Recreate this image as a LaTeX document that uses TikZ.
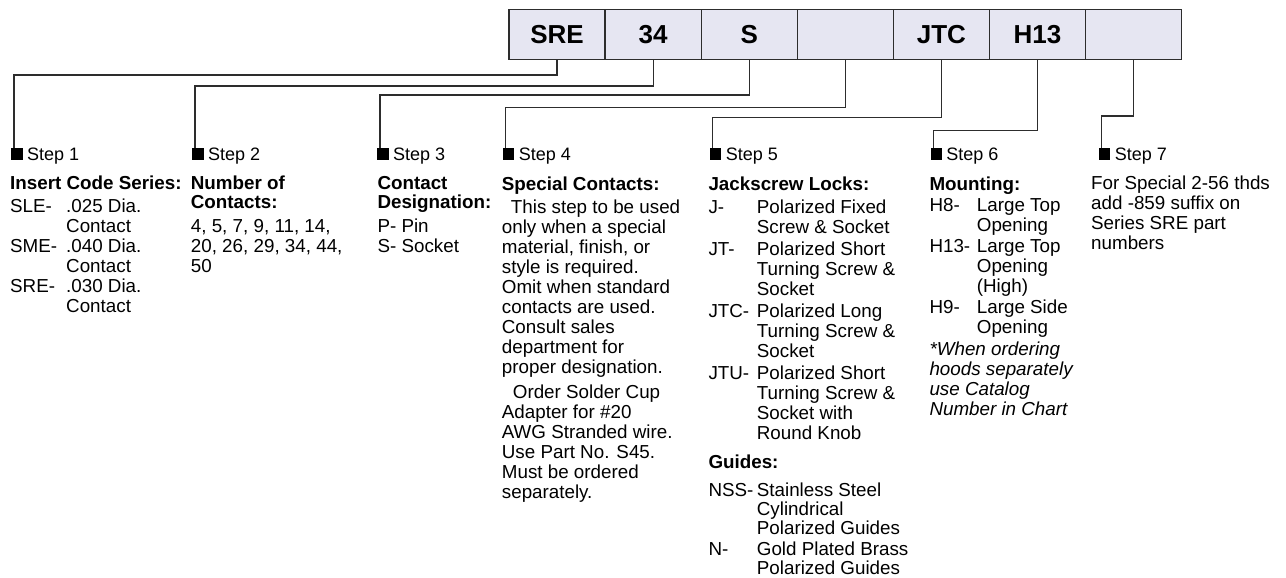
\documentclass[tikz,border=0pt]{standalone}
\usepackage{fontspec}
\setmainfont{Liberation Sans}
\usepackage{array}
\definecolor{cellfill}{RGB}{230,230,242}
\definecolor{cellline}{RGB}{45,45,45}
\def\colfont{\fontsize{18.8}{20}\selectfont}
\tikzset{
	cell/.style={draw=cellline, line width=1.3pt, fill=cellfill, minimum width=96.1pt, minimum height=50pt, inner sep=0pt, font=\fontsize{26}{28}\selectfont\bfseries},
	wire/.style={line width=1.3pt, draw=cellline},
	stepmark/.style={fill=black, minimum size=11.5pt, inner sep=0pt, anchor=south west},
	steptext/.style={font=\fontsize{18}{20}\selectfont, inner sep=0pt, anchor=base west},
	coltext/.style={font=\colfont, inner sep=0pt, anchor=base west}
}

\begin{document}
\begin{tikzpicture}[x=1pt,y=-1pt]
			%%%%% START %%%%%
			\useasboundingbox (0,0) rectangle (1286,578);
			
			\foreach \t [count=\i] in {SRE,34,S,{},JTC,H13,{}}
				\node[cell] (c\i) at ({509+96.1*(\i-0.5)},34.5) {\t};
			
			\foreach \x/\i in {11/1,192/2,377/3,502.7/4,709.7/5,930.3/6,1098.7/7} {
				\node[stepmark] (m\i) at (\x,160) {};
				\node[steptext] (l\i) at ([xshift=4pt]m\i.south east) {Step \i};
			}
			
			\foreach \i/\h in {1/75,2/86,3/95,4/107.3,5/117.3,6/130.7,7/116}
				\draw[wire] (c\i.south) -- (c\i.south |- 0,\h) -| ([xshift=3pt]m\i.north west);
			
			% step 1
			\node[coltext] (d1) at (10,189.5) {\begin{tabular}[t]{@{}p{56pt}@{}l@{}}
				\multicolumn{2}{@{}l@{}}{\bfseries Insert Code Series:}\\[2.7pt]
				SLE- & .025 Dia.\\
				& Contact\\
				SME- & .040 Dia.\\
				& Contact\\
				SRE- & .030 Dia.\\
				& Contact
			\end{tabular}};
			
			% step 2
			\node[coltext] (d2) at (190.7,189.5) {\begin{tabular}[t]{@{}l@{}}
				\bfseries Number of\\[-1pt]
				\bfseries Contacts:\\[4.4pt]
				4, 5, 7, 9, 11, 14,\\
				20, 26, 29, 34, 44,\\
				50
			\end{tabular}};
			
			% step 3
			\node[coltext] (d3) at (377.3,189.5) {\begin{tabular}[t]{@{}l@{}}
				\bfseries Contact\\[-1pt]
				\bfseries Designation:\\[4.4pt]
				P- Pin\\
				S- Socket
			\end{tabular}};
			
			% step 4
			\node[coltext] (d4) at (501.7,190) {\begin{tabular}[t]{@{}l@{}}
				\bfseries Special Contacts:\\[3.3pt]
				\hspace*{9pt}This step to be used\\
				only when a special\\
				material, finish, or\\
				style is required.\\
				Omit when standard\\
				contacts are used.\\
				Consult sales\\
				department for\\
				proper designation.\\[5pt]
				\hspace*{11pt}Order Solder Cup\\
				Adapter for \#20\\
				AWG Stranded wire.\\
				Use Part No. S45.\\
				Must be ordered\\
				separately.
			\end{tabular}};
			
			% step 5
			\node[coltext] (d5) at (708.3,190) {\begin{tabular}[t]{@{}p{48.4pt}@{}l@{}}
				\multicolumn{2}{@{}l@{}}{\bfseries Jackscrew Locks:}\\[3.3pt]
				J- & Polarized Fixed\\
				& Screw \& Socket\\[2pt]
				JT- & Polarized Short\\
				& Turning Screw \&\\
				& Socket\\[2pt]
				JTC- & Polarized Long\\
				& Turning Screw \&\\
				& Socket\\[2pt]
				JTU- & Polarized Short\\
				& Turning Screw \&\\
				& Socket with\\
				& Round Knob
			\end{tabular}};
			
			\node[coltext] (g5) at (708.3,468.3) {\begin{tabular}[t]{@{}p{48.4pt}@{}l@{}}
				\multicolumn{2}{@{}l@{}}{\bfseries Guides:}\\[8pt]
				NSS- & Stainless Steel\\[-1pt]
				& Cylindrical\\[-1pt]
				& Polarized Guides\\[1pt]
				N- & Gold Plated Brass\\[-1pt]
				& Polarized Guides
			\end{tabular}};
			
			% step 6
			\node[coltext] (d6) at (929.3,190) {\begin{tabular}[t]{@{}p{47.4pt}@{}l@{}}
				\multicolumn{2}{@{}l@{}}{\bfseries Mounting:}\\[1.7pt]
				H8- & Large Top\\
				& Opening\\[1pt]
				H13- & Large Top\\
				& Opening\\
				& (High)\\[1pt]
				H9- & Large Side\\
				& Opening\\[1.5pt]
				\multicolumn{2}{@{}l@{}}{\itshape *When ordering}\\
				\multicolumn{2}{@{}l@{}}{\itshape hoods separately}\\
				\multicolumn{2}{@{}l@{}}{\itshape use Catalog}\\
				\multicolumn{2}{@{}l@{}}{\itshape Number in Chart}
			\end{tabular}};
			
			% step 7
			\node[coltext] (d7) at (1091,189.5) {\begin{tabular}[t]{@{}l@{}}
				For Special 2-56 thds\\
				add -859 suffix on\\
				Series SRE part\\
				numbers
			\end{tabular}};
			
			%%%%% END %%%%%
\end{tikzpicture}
\end{document}
